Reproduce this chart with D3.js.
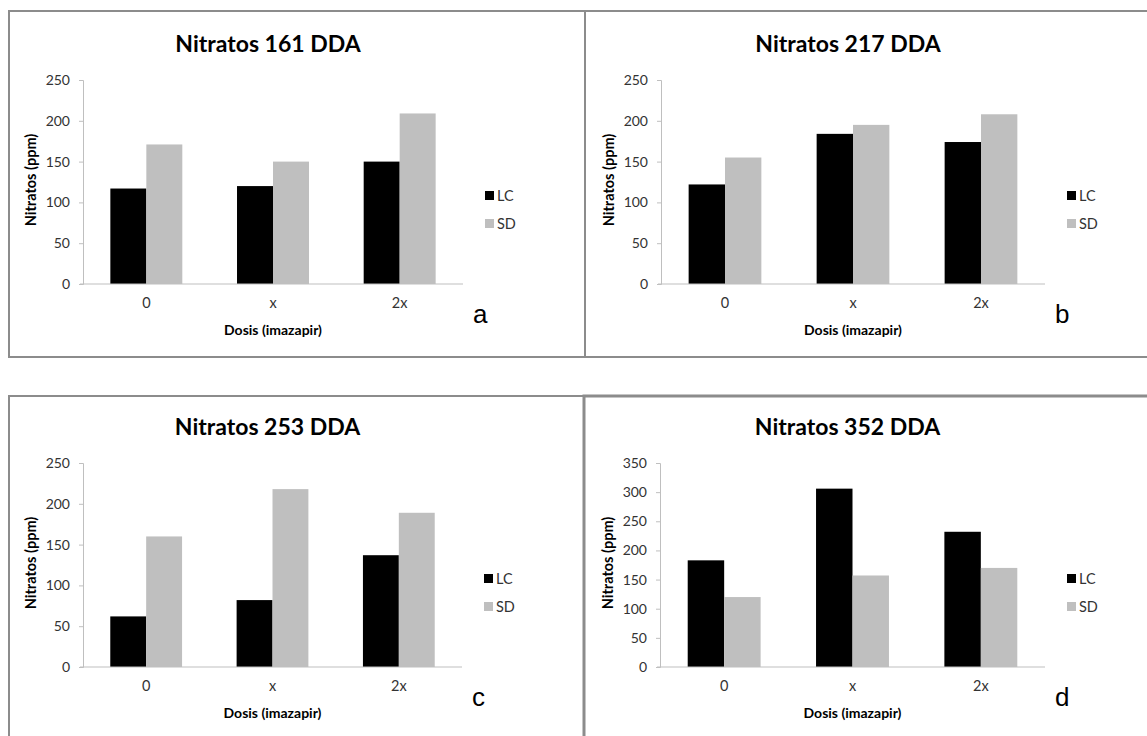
<!DOCTYPE html>
<html>
<head>
<meta charset="utf-8">
<script src="https://cdn.jsdelivr.net/npm/d3@7"></script>
<style>
  body { margin: 0; background: #fff; }
  svg { display: block; }
  text { font-family: Lato, "Open Sans", sans-serif; }
</style>
</head>
<body>
<svg id="chart" width="1147" height="736"></svg>
<script>
// data
var categories = ["0", "x", "2x"];
var seriesNames = ["LC", "SD"];

var lc161 = [117, 120, 150];
var sd161 = [171, 150, 209];

var lc217 = [122, 184, 174];
var sd217 = [155, 195, 208];

var lc253 = [62, 82, 137];
var sd253 = [160, 218, 189];

var lc352 = [183, 306, 232];
var sd352 = [120, 157, 170];

var ticks250 = [0, 50, 100, 150, 200, 250];
var ticks350 = [0, 50, 100, 150, 200, 250, 300, 350];

var colors = {LC: "#000000", SD: "#bfbfbf"};

var svg = d3.select("#chart");

// panel frames
var frames = [
  {x: 9, y: 11, w: 576, h: 346, sw: 2},
  {x: 585, y: 11, w: 600, h: 346, sw: 2},
  {x: 9, y: 396, w: 575, h: 400, sw: 2},
  {x: 584, y: 396, w: 600, h: 400, sw: 3}
];
svg.selectAll(".frame")
    .data(frames)
  .enter().append("rect")
    .attr("class", "frame")
    .attr("x", function(d) { return d.x; })
    .attr("y", function(d) { return d.y; })
    .attr("width", function(d) { return d.w; })
    .attr("height", function(d) { return d.h; })
    .attr("fill", "none")
    .attr("stroke", "#8c8c8c")
    .attr("stroke-width", function(d) { return d.sw; });

var panels = [
  {title: "Nitratos 161 DDA", lc: lc161, sd: sd161, ticks: ticks250, letter: "a",
   left: 83, right: 463, top: 80, bottom: 284},
  {title: "Nitratos 217 DDA", lc: lc217, sd: sd217, ticks: ticks250, letter: "b",
   left: 661, right: 1045, top: 80, bottom: 284},
  {title: "Nitratos 253 DDA", lc: lc253, sd: sd253, ticks: ticks250, letter: "c",
   left: 83, right: 462, top: 463, bottom: 667},
  {title: "Nitratos 352 DDA", lc: lc352, sd: sd352, ticks: ticks350, letter: "d",
   left: 660, right: 1045, top: 463, bottom: 667}
];

panels.forEach(drawPanel);

function drawPanel(p) {
  var g = svg.append("g");

  var x0 = d3.scaleBand()
      .domain(categories)
      .range([p.left, p.right]);

  var x1 = d3.scaleBand()
      .domain(seriesNames)
      .range([0, x0.bandwidth()])
      .paddingOuter(0.76);

  var y = d3.scaleLinear()
      .domain([0, d3.max(p.ticks)])
      .range([p.bottom, p.top]);

  var rows = categories.map(function(c, i) {
    return {cat: c, values: [{key: "LC", v: p.lc[i]}, {key: "SD", v: p.sd[i]}]};
  });

  // y axis
  var yAxis = g.append("g")
      .attr("transform", "translate(" + p.left + ",0)")
      .call(d3.axisLeft(y).tickValues(p.ticks).tickSize(4).tickPadding(9));
  yAxis.selectAll("path, line").attr("stroke", "#bfbfbf");
  yAxis.selectAll("text")
      .attr("fill", "#333")
      .style("font-size", "14px")
      .style("font-family", "Lato, sans-serif");

  // bars
  g.selectAll(".grp")
      .data(rows)
    .enter().append("g")
      .attr("transform", function(d) { return "translate(" + x0(d.cat) + ",0)"; })
    .selectAll("rect")
      .data(function(d) { return d.values; })
    .enter().append("rect")
      .attr("x", function(d) { return x1(d.key); })
      .attr("width", x1.bandwidth())
      .attr("y", function(d) { return y(d.v); })
      .attr("height", function(d) { return p.bottom - y(d.v); })
      .attr("fill", function(d) { return colors[d.key]; });

  // x axis
  var xAxis = g.append("g")
      .attr("transform", "translate(0," + p.bottom + ")")
      .call(d3.axisBottom(x0).tickSize(0).tickPadding(14));
  xAxis.select(".domain").attr("stroke", "#bfbfbf").attr("d", "M" + (p.left - 3) + ",0H" + p.right);
  xAxis.selectAll("text")
      .attr("fill", "#333")
      .style("font-size", "14.5px")
      .style("font-family", "Lato, sans-serif");

  // title
  g.append("text")
      .attr("x", (p.left + p.right) / 2 - 5)
      .attr("y", p.top - 28)
      .attr("text-anchor", "middle")
      .style("font-size", "23px")
      .style("font-weight", "bold")
      .text(p.title);

  // axis titles
  g.append("text")
      .attr("transform", "translate(" + (p.left - 47) + "," + ((p.top + p.bottom) / 2 - 2) + ") rotate(-90)")
      .attr("text-anchor", "middle")
      .style("font-size", "14.5px")
      .style("font-weight", "bold")
      .text("Nitratos (ppm)");

  g.append("text")
      .attr("x", (p.left + p.right) / 2)
      .attr("y", p.bottom + 51)
      .attr("text-anchor", "middle")
      .style("font-size", "14px")
      .style("font-weight", "bold")
      .text("Dosis (imazapir)");

  // legend
  var leg = g.selectAll(".leg")
      .data(seriesNames)
    .enter().append("g")
      .attr("transform", function(d, i) {
        return "translate(" + (p.right + 22) + "," + ((p.top + p.bottom) / 2 + 14 + i * 28) + ")";
      });
  leg.append("rect")
      .attr("x", 0).attr("y", -5)
      .attr("width", 9).attr("height", 9)
      .attr("fill", function(d) { return colors[d]; });
  leg.append("text")
      .attr("x", 12).attr("y", 5)
      .style("font-size", "14.5px")
      .attr("fill", "#333")
      .text(function(d) { return d; });

  // panel letter
  g.append("text")
      .attr("x", p.right + 10)
      .attr("y", p.bottom + 39)
      .style("font-family", "'Liberation Sans', Arial, sans-serif")
      .style("font-size", "26px")
      .text(p.letter);
}
</script>
</body>
</html>
